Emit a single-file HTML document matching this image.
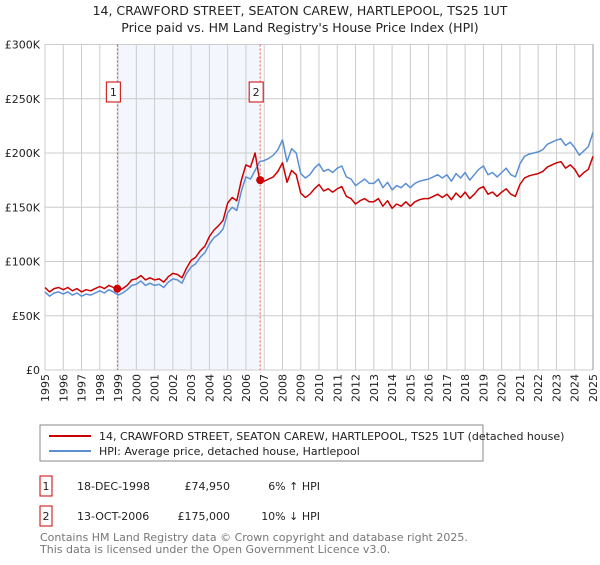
<!DOCTYPE html>
<html><head><meta charset="utf-8"><style>
body{margin:0;background:#fff;font-family:"Liberation Sans","DejaVu Sans",sans-serif;}
svg text{font-family:"DejaVu Sans","Liberation Sans",sans-serif;}
</style></head><body>
<svg id="chart" width="600" height="560" xmlns="http://www.w3.org/2000/svg">
<text x="300" y="15" text-anchor="middle" font-size="12.5" fill="#222">14, CRAWFORD STREET, SEATON CAREW, HARTLEPOOL, TS25 1UT</text>
<text x="300" y="32" text-anchor="middle" font-size="12.5" fill="#222">Price paid vs. HM Land Registry's House Price Index (HPI)</text>
<g id="grid"></g><g id="marks"></g><g id="axes"></g>
<rect x="40" y="425" width="443" height="36" fill="#fff" stroke="#888"/>
<line x1="49" y1="436" x2="91" y2="436" stroke="#cc0000" stroke-width="2"/>
<text x="99" y="440" font-size="11" fill="#222">14, CRAWFORD STREET, SEATON CAREW, HARTLEPOOL, TS25 1UT (detached house)</text>
<line x1="49" y1="451" x2="91" y2="451" stroke="#5b8fd4" stroke-width="2"/>
<text x="99" y="455" font-size="11" fill="#222">HPI: Average price, detached house, Hartlepool</text>
<rect x="40" y="476" width="12" height="20" fill="none" stroke="#cc0000"/>
<text x="46" y="490" text-anchor="middle" font-size="11" fill="#222">1</text>
<text x="77" y="490" font-size="11" fill="#222">18-DEC-1998</text>
<text x="230" y="490" text-anchor="end" font-size="11" fill="#222">£74,950</text>
<text x="320" y="490" text-anchor="end" font-size="11" fill="#222">6% ↑ HPI</text>
<rect x="40" y="506" width="12" height="20" fill="none" stroke="#cc0000"/>
<text x="46" y="520" text-anchor="middle" font-size="11" fill="#222">2</text>
<text x="77" y="520" font-size="11" fill="#222">13-OCT-2006</text>
<text x="230" y="520" text-anchor="end" font-size="11" fill="#222">£175,000</text>
<text x="320" y="520" text-anchor="end" font-size="11" fill="#222">10% ↓ HPI</text>
<text x="40" y="541" font-size="11" fill="#777">Contains HM Land Registry data © Crown copyright and database right 2025.</text>
<text x="40" y="553" font-size="11" fill="#777">This data is licensed under the Open Government Licence v3.0.</text>
</svg>
<script>
const startYear = 1995;
const hpiValues = [72,68,71,72, 70,72,69,71, 68,70,69,71, 73,71,74,72, 69,71,74,78, 79,82,78,80, 78,79,76,81, 84,83,80,89, 95,98,104,108, 116,122,125,130, 145,150,147,165, 178,176,184,192, 193,195,198,203, 212,192,204,200, 181,177,180,186, 190,183,185,182, 186,188,178,176, 170,173,176,172, 172,176,168,173, 166,170,168,172, 168,172,174,175, 176,178,180,177, 180,174,181,177, 182,175,180,185, 188,180,182,178, 182,186,180,178, 190,197,199,200, 201,203,208,210, 212,213,207,210, 205,198,202,206, 219];
const propValues = [76,72,75,76, 74,76,73,75, 72,74,73,75, 77,75,78,76, 73,75,78,83, 84,87,83,85, 83,84,81,86, 89,88,85,94, 101,104,110,114, 123,129,133,138, 154,159,156,175, 189,187,200,175, 174,176,178,183, 191,173,184,180, 163,159,162,167, 171,165,167,164, 167,169,160,158, 153,156,158,155, 155,158,151,156, 149,153,151,155, 151,155,157,158, 158,160,162,159, 162,157,163,159, 164,158,162,167, 169,162,164,160, 164,167,162,160, 171,177,179,180, 181,183,187,189, 191,192,186,189, 185,178,182,185, 197];
const saleDates = [1998.96, 2006.78];
const salePrices = [74.95, 175];
const saleLabels = ["1","2"];
const yTicks = [0,50,100,150,200,250,300];
const yTickLabels = ["£0","£50K","£100K","£150K","£200K","£250K","£300K"];
const xTicks = [1995,1996,1997,1998,1999,2000,2001,2002,2003,2004,2005,2006,2007,2008,2009,2010,2011,2012,2013,2014,2015,2016,2017,2018,2019,2020,2021,2022,2023,2024,2025];

const X0=45,X1=593,Y0=370,Y1=44.5;
const xs=t=>X0+(t-1995)/30*(X1-X0);
const ys=v=>Y0-v/300*(Y0-Y1);
const NS="http://www.w3.org/2000/svg";
function mk(tag,attrs,parent){const e=document.createElementNS(NS,tag);for(const k in attrs)e.setAttribute(k,attrs[k]);parent.appendChild(e);return e;}
const grid=document.getElementById('grid'),marks=document.getElementById('marks'),axes=document.getElementById('axes');

const shade=mk('rect',{x:xs(saleDates[0]),y:Y1,width:xs(saleDates[1])-xs(saleDates[0]),height:Y0-Y1,fill:'#eef3fc',opacity:0.7},grid);


xTicks.forEach((t,i)=>{
  const l=mk('line',{x1:xs(t),x2:xs(t),y1:Y1,y2:Y0,stroke:'#cccccc','stroke-width':1},grid);
  
  
  const tx=mk('text',{x:0,y:0,'font-size':11,fill:'#222','text-anchor':'end',transform:`translate(${xs(t)+4},${Y0+4}) rotate(-90)`},axes);
  tx.textContent=t;
  
  
});
yTicks.forEach((v,i)=>{
  const l=mk('line',{x1:X0,x2:X1,y1:ys(v),y2:ys(v),stroke:'#cccccc','stroke-width':1},grid);
  
  
  const tx=mk('text',{x:X0-5,y:ys(v)+4,'font-size':11,fill:'#222','text-anchor':'end'},axes);
  tx.textContent=yTickLabels[i];
  
  
});
const edge=mk('line',{x1:X1,x2:X1,y1:Y1,y2:Y0,stroke:'#999','stroke-width':1},grid);



saleDates.forEach((d,i)=>{
  const l=mk('line',{x1:xs(d),x2:xs(d),y1:Y1,y2:Y0,stroke:'#e05050','stroke-width':1,'stroke-dasharray':'2,2'},marks);
  
  
});
function pathFor(vals){return vals.map((v,i)=>(i?'L':'M')+xs(startYear+i*0.25).toFixed(1)+','+ys(v).toFixed(1)).join('');}
const hp=mk('path',{d:pathFor(hpiValues),fill:'none',stroke:'#5b8fd4','stroke-width':1.5,'stroke-linejoin':'round'},marks);


const pp=mk('path',{d:pathFor(propValues),fill:'none',stroke:'#cc0000','stroke-width':1.5,'stroke-linejoin':'round'},marks);


saleDates.forEach((d,i)=>{
  const c=mk('circle',{cx:xs(d),cy:ys(salePrices[i]),r:4,fill:'#cc0000'},marks);
  
  
  const b=mk('rect',{x:xs(d)-11,y:82,width:14,height:20,fill:'#fff',stroke:'#cc0000'},marks);
  
  
  const t=mk('text',{x:xs(d)-4,y:96,'font-size':11,fill:'#222','text-anchor':'middle'},marks);
  t.textContent=saleLabels[i];
  
  
});
</script>
</body></html>
